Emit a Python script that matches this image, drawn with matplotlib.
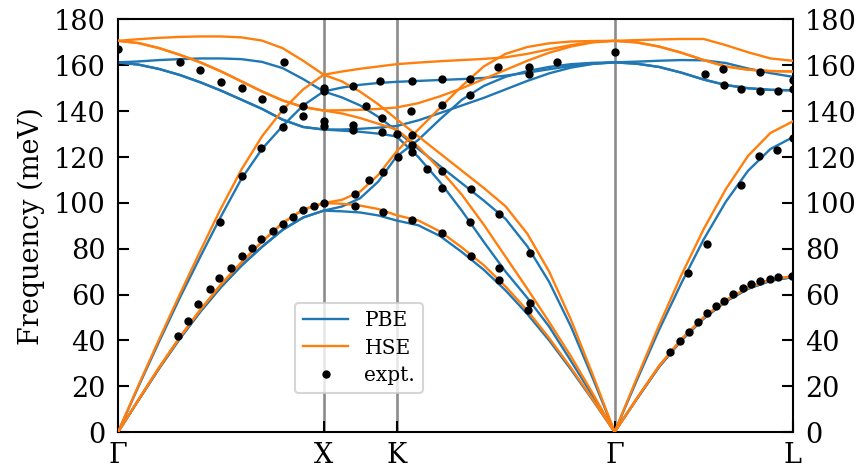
import matplotlib
matplotlib.use("Agg")
import matplotlib.pyplot as plt
import numpy as np

plt.rcParams['font.family'] = ['DejaVu Serif']

# high-symmetry points (path coordinate, units of 2*pi/a)
sym_labels = ["Γ", "X", "K", "Γ", "L"]
sym_pos = [0.0, 1.0, 1.354, 2.414, 3.280]

# sample positions along the path
q = [0.0, 0.1, 0.2, 0.3, 0.4, 0.5, 0.6, 0.7, 0.8, 0.9, 1.0,
     1.0885, 1.177, 1.2655, 1.354,
     1.46, 1.566, 1.672, 1.778, 1.884, 1.990, 2.096, 2.202, 2.308, 2.414,
     2.522, 2.630, 2.739, 2.847, 2.955, 3.063, 3.172, 3.280]

# ---- PBE branches (meV) ----
pbe_a = [0, 14.0, 27.8, 40.7, 52.5, 63.2, 72.6, 80.8, 88.2, 93.6, 96.6,
         96.3, 95.8, 94.5, 92.3,
         90.2, 85.5, 78.5, 70.8, 61.8, 51.5, 40.0, 27.3, 13.9, 0,
         14.4, 28.4, 40.0, 49.5, 57.0, 62.5, 66.0, 67.6]
pbe_b = [0, 14.0, 27.8, 40.7, 52.5, 63.2, 72.6, 80.8, 88.2, 93.6, 96.6,
         98.4, 102.0, 109.3, 120.2,
         127.5, 136.5, 145.0, 151.0, 155.0, 157.5, 159.3, 160.5, 161.1, 161.3,
         160.7, 159.3, 156.8, 153.8, 151.4, 150.0, 149.3, 149.1]
pbe_c = [0, 20.0, 39.5, 58.5, 76.5, 94.0, 110.5, 123.5, 133.5, 142.5, 148.6,
         146.0, 142.5, 137.5, 131.5,
         123.5, 116.0, 108.5, 101.0, 93.0, 81.0, 65.5, 46.0, 23.5, 0,
         22.5, 44.5, 65.0, 84.0, 100.5, 114.0, 123.5, 128.6]
pbe_d = [161.3, 161.7, 162.3, 162.7, 163.0, 163.0, 162.7, 161.5, 158.8, 154.0, 148.6,
         150.3, 151.5, 152.3, 152.8,
         153.2, 153.6, 154.0, 154.5, 155.5, 156.8, 158.3, 159.7, 160.7, 161.3,
         161.6, 162.0, 162.3, 162.2, 161.0, 158.6, 156.6, 155.0]
pbe_e = [161.3, 160.3, 158.4, 155.8, 152.6, 149.0, 145.0, 141.0, 136.3, 133.1, 132.0,
         132.0, 132.3, 132.8, 133.5,
         136.0, 139.2, 142.5, 145.8, 149.5, 153.2, 156.5, 159.0, 160.6, 161.3,
         160.7, 159.3, 156.8, 153.8, 151.4, 150.0, 149.3, 149.1]
pbe_f = [161.3, 160.3, 158.4, 155.8, 152.6, 149.0, 145.0, 141.0, 136.3, 133.1, 132.0,
         131.5, 131.0, 130.2, 129.0,
         120.0, 109.0, 96.5, 83.0, 70.0, 58.5, 46.0, 31.0, 15.7, 0,
         14.4, 28.4, 40.0, 49.5, 57.0, 62.5, 66.0, 67.6]

# ---- HSE branches (meV) ----
hse_a = [0, 14.2, 28.2, 41.3, 53.3, 64.3, 74.0, 83.0, 91.2, 97.0, 99.9,
         99.6, 98.8, 97.3, 94.6,
         92.3, 87.5, 80.5, 72.8, 63.5, 53.0, 41.0, 28.0, 14.2, 0,
         14.6, 28.8, 40.5, 50.0, 57.5, 63.0, 66.5, 68.0]
hse_b = [0, 14.2, 28.2, 41.3, 53.3, 64.3, 74.0, 83.0, 91.2, 97.0, 99.9,
         101.3, 104.9, 112.2, 122.4,
         132.0, 141.5, 151.0, 159.5, 165.0, 168.0, 169.6, 170.4, 170.6, 170.7,
         170.0, 168.2, 165.5, 162.3, 159.5, 158.1, 157.5, 157.3]
hse_c = [0, 20.5, 40.5, 60.0, 79.0, 97.5, 114.5, 129.0, 140.5, 149.5, 155.9,
         153.0, 148.5, 143.0, 136.5,
         129.0, 121.5, 114.0, 106.5, 98.5, 86.5, 70.0, 49.0, 25.0, 0,
         23.5, 46.5, 68.5, 88.5, 106.0, 120.5, 130.5, 135.5]
hse_d = [170.7, 171.4, 172.0, 172.4, 172.6, 172.6, 172.2, 170.8, 167.5, 162.0, 155.9,
         157.3, 158.5, 159.5, 160.5,
         161.2, 161.8, 162.3, 162.8, 163.5, 165.0, 167.0, 168.8, 170.2, 170.7,
         171.0, 171.3, 171.5, 171.5, 168.8, 165.7, 163.0, 162.0]
hse_e = [170.7, 169.7, 167.5, 164.6, 161.3, 157.4, 153.0, 148.6, 144.7, 141.8, 140.3,
         140.4, 140.6, 141.0, 141.6,
         143.5, 146.5, 150.0, 154.0, 158.0, 162.0, 165.5, 168.2, 170.0, 170.7,
         170.0, 168.2, 165.5, 162.3, 159.5, 158.1, 157.5, 157.3]
hse_f = [170.7, 169.7, 167.5, 164.6, 161.3, 157.4, 153.0, 148.6, 144.7, 141.8, 140.3,
         139.0, 137.0, 134.5, 132.0,
         124.5, 114.5, 103.5, 90.5, 76.5, 62.5, 48.0, 33.0, 16.8, 0,
         14.6, 28.8, 40.5, 50.0, 57.5, 63.0, 66.5, 68.0]

# ---- experimental points ----
expt_q = [0.0, 0.302, 0.399, 0.500, 0.601, 0.701, 0.800, 0.900, 0.900, 0.805,
          1.0, 1.0, 1.0, 1.0,
          0.497, 0.601, 0.697, 0.800,
          0.294, 0.342, 0.388, 0.445, 0.493, 0.549, 0.605, 0.651, 0.697, 0.752,
          0.802, 0.849, 0.900, 0.951, 1.0,
          1.141, 1.276, 1.427, 1.577, 1.711, 1.848, 1.999, 1.999, 2.133,
          1.207, 1.284, 1.422, 1.573, 1.711,
          1.141, 1.141, 1.284, 1.357, 1.427, 1.431, 1.431, 1.362,
          1.151, 1.219, 1.287, 1.151, 1.287,
          1.431, 1.573, 1.718, 1.852, 1.852, 2.003, 1.991,
          1.504, 1.577, 1.715, 1.852, 2.003, 1.573, 1.710, 2.414,
          2.855, 2.941, 2.948, 3.030, 3.121, 3.121, 3.208, 3.280, 3.280,
          3.030, 3.114, 3.204, 3.280, 2.864, 2.773,
          2.685, 2.732, 2.775, 2.819, 2.864, 2.905, 2.948, 2.992, 3.038, 3.078,
          3.121, 3.168, 3.208, 3.275]
expt_e = [167.1, 161.3, 158.1, 152.8, 149.9, 145.3, 141.0, 142.4, 138.1, 161.3,
          150.1, 148.6, 135.5, 133.6,
          91.8, 111.5, 123.9, 132.9,
          41.9, 48.5, 55.8, 62.3, 67.4, 71.7, 76.6, 80.5, 84.1, 87.5,
          90.7, 94.0, 96.9, 98.8, 99.9,
          150.9, 153.3, 153.3, 154.1, 153.9, 159.1, 159.1, 156.3, 161.3,
          142.1, 137.0, 139.9, 142.6, 146.9,
          133.8, 131.9, 130.7, 130.0, 129.7, 125.3, 122.4, 120.2,
          103.8, 110.0, 113.4, 98.7, 95.8,
          92.6, 86.8, 76.9, 71.5, 66.4, 56.2, 53.3,
          114.7, 114.1, 106.1, 95.1, 78.0, 106.4, 91.8, 165.8,
          156.3, 158.5, 151.2, 149.8, 156.9, 149.0, 149.0, 153.7, 149.8,
          107.6, 120.5, 123.1, 128.5, 82.1, 69.6,
          34.8, 39.9, 43.5, 48.2, 52.1, 55.0, 57.3, 60.3, 62.7, 64.5,
          66.1, 66.8, 67.6, 68.1]

pbe_color = "#1f77b4"
hse_color = "#ff7f0e"

fig = plt.figure(figsize=(8.59, 4.72), dpi=100)
ax = fig.add_axes([0.1374, 0.0847, 0.7854, 0.874])

for xv in sym_pos[1:-1]:
    ax.axvline(xv, color="#8c8c8c", lw=1.9, zorder=0)

for i, band in enumerate([pbe_a, pbe_b, pbe_c, pbe_d, pbe_e, pbe_f]):
    ax.plot(q, band, color=pbe_color, lw=1.7, zorder=2,
            label="PBE" if i == 0 else None)
for i, band in enumerate([hse_a, hse_b, hse_c, hse_d, hse_e, hse_f]):
    ax.plot(q, band, color=hse_color, lw=1.7, zorder=3,
            label="HSE" if i == 0 else None)
ax.plot(expt_q, expt_e, "o", color="black", ms=5, ls="none", zorder=4,
        label="expt.")

ax.set_xlim(sym_pos[0], sym_pos[-1])
ax.set_ylim(0, 180)
ax.set_xticks(sym_pos)
ax.set_xticklabels(sym_labels)
ax.set_yticks(np.arange(0, 181, 20))
ax.tick_params(axis="y", direction="in", length=8, width=1.5, labelsize=19.5,
               pad=9, left=True, right=True, labelleft=True, labelright=True)
ax.tick_params(axis="x", direction="in", length=8, width=1.5, labelsize=19.5,
               pad=7, top=False)
for s in ax.spines.values():
    s.set_linewidth(1.5)
ax.set_ylabel("Frequency (meV)", fontsize=19.5, labelpad=6)

leg = ax.legend(loc="lower left", bbox_to_anchor=(0.2623, 0.0945),
                borderaxespad=0, fontsize=14.5, handlelength=2.25,
                labelspacing=0.42, borderpad=0.4, frameon=True, fancybox=True,
                framealpha=0.8, edgecolor="#cccccc")
leg.get_frame().set_linewidth(1.5)

fig.savefig("out.png", dpi=100)
